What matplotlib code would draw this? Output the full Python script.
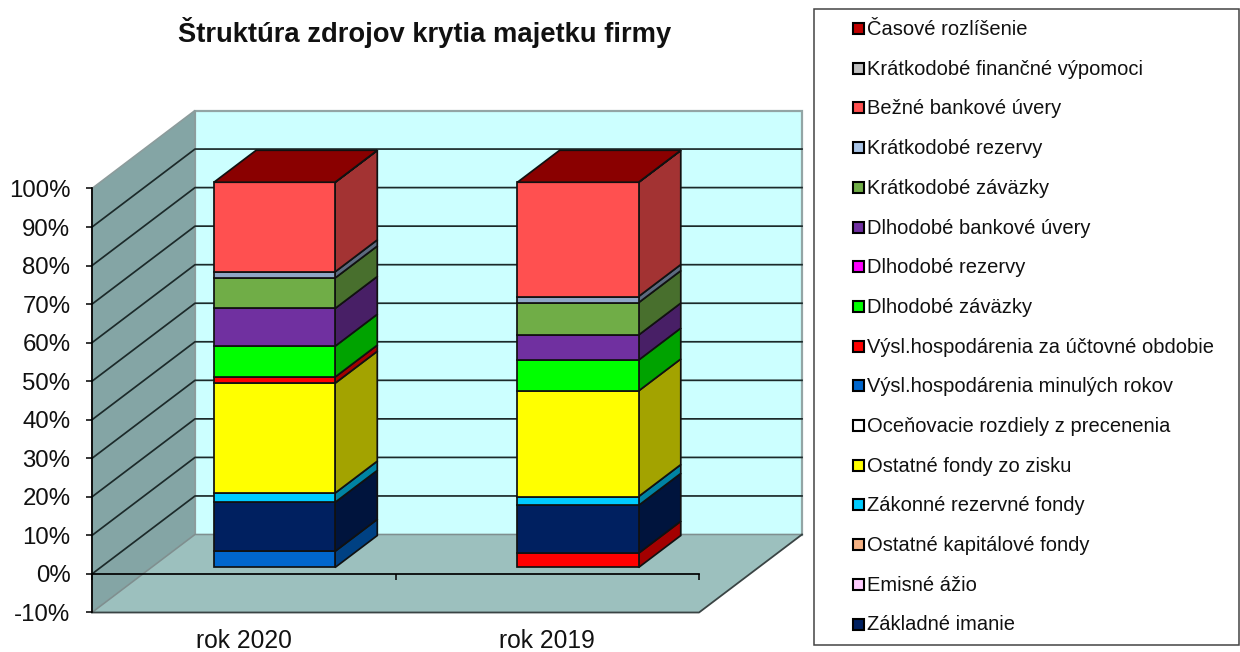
import matplotlib
matplotlib.use("Agg")
import matplotlib.pyplot as plt
from matplotlib.patches import Polygon, Rectangle
from matplotlib.colors import to_rgb

plt.rcParams['font.family'] = ['Liberation Sans', 'DejaVu Sans']

rok = ["rok 2020", "rok 2019"]

# poradie ako v legende, odspodu nahor
serie = ["Základné imanie", "Emisné ážio", "Ostatné kapitálové fondy",
         "Zákonné rezervné fondy", "Ostatné fondy zo zisku",
         "Oceňovacie rozdiely z precenenia", "Výsl.hospodárenia minulých rokov",
         "Výsl.hospodárenia za účtovné obdobie", "Dlhodobé záväzky",
         "Dlhodobé rezervy", "Dlhodobé bankové úvery", "Krátkodobé záväzky",
         "Krátkodobé rezervy", "Bežné bankové úvery",
         "Krátkodobé finančné výpomoci", "Časové rozlíšenie"]
farby = ["#002060", "#FFCCFF", "#F4B183", "#00CCFF", "#FFFF00", "#FFFFFF",
         "#0066CC", "#FF0000", "#00FF00", "#FF00FF", "#7030A0", "#70AD47",
         "#A9C4E6", "#FF5050", "#C0C0C0", "#C00000"]
farba_pasu = "#8FA6C6"  # tenky pas v stlpci vyzera tmavsie nez v legende

# zaporne polozky idu v Exceli na spodok stlpca
hodnoty_2020 = [12.7, 0, 0, 2.4, 28.5, 0, -4.2, 1.6, 8.0, 0, 9.8, 7.9, 1.6, 23.2, 0, 0.05]
hodnoty_2019 = [12.4, 0, 0, 2.3, 27.4, 0, 0, -3.7, 8.0, 0, 6.5, 8.4, 1.6, 29.6, 0, 0.05]

y_ticks = list(range(-10, 101, 10))

# 3D vzhlad: posun zadnej steny v jednotkach osi
HLBKA_X = 103 / 303.5
HLBKA_Y = 78 / 3.855
BAR_D0, BAR_D1 = 0.577, 0.987
BAR_X0, BAR_W = 0.206, 0.399
Y_MIN, Y_MAX = -10, 100


def p(x, y, d=0.0):
    return (x + d * HLBKA_X, y + d * HLBKA_Y)


def tmavsia(farba, k):
    return tuple(c * k for c in to_rgb(farba))


W, H = 1240, 652
fig = plt.figure(figsize=(W / 100, H / 100), dpi=100)
ax = fig.add_axes([92 / W, 1 - 612.5 / H, (699 - 92) / W, (612.5 - 188.5) / H])
ax.set_xlim(0, 2)
ax.set_ylim(Y_MIN, Y_MAX)
ax.patch.set_visible(False)

# steny a podlaha
ax.add_patch(Polygon([p(0, Y_MIN, 1), p(2, Y_MIN, 1), p(2, Y_MAX, 1), p(0, Y_MAX, 1)],
                     fc="#CCFFFF", ec="#93a5a5", lw=1.6, clip_on=False, zorder=1))
ax.add_patch(Polygon([p(0, Y_MIN), p(0, Y_MIN, 1), p(0, Y_MAX, 1), p(0, Y_MAX)],
                     fc="#84A5A5", ec="#8c9c9c", lw=1.2, clip_on=False, zorder=1.1))
ax.add_patch(Polygon([p(0, Y_MIN), p(2, Y_MIN), p(2, Y_MIN, 1), p(0, Y_MIN, 1)],
                     fc="#9CC0BE", ec="none", clip_on=False, zorder=1.2))
# hrany podlahy: predna a prava tmave, lava a zadna svetle
ax.plot(*zip(p(0, Y_MIN), p(0, Y_MIN, 1), p(2, Y_MIN, 1)), color="#7f8f8f", lw=1.1,
        clip_on=False, zorder=1.3)
ax.plot(*zip(p(0, Y_MIN), p(2, Y_MIN), p(2, Y_MIN, 1)), color="#3a4444", lw=1.3,
        clip_on=False, zorder=1.3)

# mriezka na zadnej a lavej stene
for v in y_ticks[1:-1]:
    x1, y1 = p(0, v, 1)
    x2, y2 = p(2, v, 1)
    x0, y0 = p(0, v)
    ax.plot([x0, x1, x2], [y0, y1, y2], color="#1c2a2a", lw=1.25, clip_on=False, zorder=1.5)

# stlpce
for i, hodnoty in enumerate([hodnoty_2020, hodnoty_2019]):
    poradie = [j for j, h in enumerate(hodnoty) if h < 0]
    poradie += [j for j, h in enumerate(hodnoty) if h > 0]
    dolu = Y_MIN
    x0 = i + BAR_X0
    x1 = x0 + BAR_W
    fx0 = p(x0, 0, BAR_D0)[0]
    z = 3
    for j in poradie:
        h = abs(hodnoty[j])
        hore = dolu + h
        farba = farba_pasu if serie[j] == "Krátkodobé rezervy" else farby[j]
        ax.add_patch(Polygon([p(x1, dolu, BAR_D0), p(x1, dolu, BAR_D1),
                              p(x1, hore, BAR_D1), p(x1, hore, BAR_D0)],
                             fc=tmavsia(farba, 0.64), ec="#111111", lw=1.25,
                             clip_on=False, zorder=z))
        ax.bar(fx0, h, width=BAR_W, bottom=p(0, dolu, BAR_D0)[1], align="edge",
               color=farba, edgecolor="#111111", lw=1.25, clip_on=False, zorder=z + 0.5)
        dolu = hore
        z += 0.01
    # vrchna plocha ma farbu poslednej serie
    posledna = poradie[-1]
    ax.add_patch(Polygon([p(x0, dolu, BAR_D0), p(x1, dolu, BAR_D0),
                          p(x1, dolu, BAR_D1), p(x0, dolu, BAR_D1)],
                         fc=tmavsia(farby[posledna], 0.72), ec="#111111", lw=1.25,
                         clip_on=False, zorder=z + 1))

# osi
for s in ["top", "right"]:
    ax.spines[s].set_visible(False)
ax.spines["bottom"].set_position(("data", 0))
ax.spines["bottom"].set_zorder(2)
ax.spines["left"].set_zorder(2)
ax.spines["bottom"].set_linewidth(1.25)
ax.spines["left"].set_linewidth(1.25)
ax.set_yticks(y_ticks)
ax.set_yticklabels([f"{v}%" for v in y_ticks], fontsize=17.3, color="#111111")
ax.set_xticks([0, 1, 2])
ax.set_xticklabels([])
ax.set_xticks([0.5, 1.5], minor=True)
ax.set_xticklabels(rok, minor=True, fontsize=17.7, color="#111111")
ax.tick_params(axis="y", direction="out", length=4.5, width=1.1, pad=11)
ax.tick_params(axis="x", which="major", direction="out", length=4, width=1.1)
ax.tick_params(axis="x", which="minor", length=0, pad=39.5)

fig.text(425 / W, 1 - 32 / H, "Štruktúra zdrojov krytia majetku firmy", fontsize=19.7,
         fontweight="bold", ha="center", va="center", color="#111111")

# legenda
lax = fig.add_axes([0, 0, 1, 1])
lax.set_xlim(0, W)
lax.set_ylim(H, 0)
lax.axis("off")
lax.add_patch(Rectangle((813.5, 8.5), 425.5, 636, fc="white", ec="#444444", lw=1.1))
for k, (nazov, farba) in enumerate(zip(serie[::-1], farby[::-1])):
    yy = 28.5 + k * 39.7
    lax.add_patch(Rectangle((852.5, yy - 5.5), 11, 11, fc=farba, ec="black", lw=1.5))
    lax.text(867, yy + 1, nazov, fontsize=14.5, va="center", ha="left", color="#111111")

fig.savefig("out.png", dpi=100)
